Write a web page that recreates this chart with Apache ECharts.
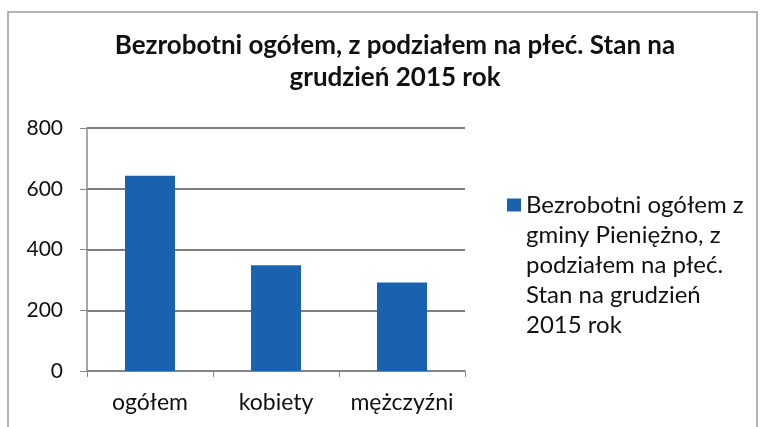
<!DOCTYPE html>
<html>
<head>
<meta charset="utf-8">
<script src="https://cdn.jsdelivr.net/npm/echarts@6/dist/echarts.min.js"></script>
<style>
  html, body { margin: 0; padding: 0; background: #fff; }
  #chart { width: 763px; height: 427px; }
</style>
</head>
<body>
<div id="chart"></div>
<script>
// dane z wykresu
var categories = ['ogółem', 'kobiety', 'mężczyźni'];
var values = [643, 348, 291];
var seriesName = 'Bezrobotni ogółem z gminy Pieniężno, z podziałem na płeć. Stan na grudzień 2015 rok';
var legendLines = ['Bezrobotni ogółem z', 'gminy Pieniężno, z', 'podziałem na płeć.', 'Stan na grudzień', '2015 rok'];
var yTicks = [0, 200, 400, 600, 800];

var font = 'Lato, "Open Sans", sans-serif';
var lineH = 30;

var myChart = echarts.init(document.getElementById('chart'));

// ikona legendy: kwadrat przy pierwszej linii, wysokość całego bloku tekstu
var legendH = legendLines.length * lineH;
var legendIcon = 'path://M0,0L0.01,0M0,8.5h14v13h-14zM0,' + legendH + 'L0.01,' + legendH;

var option = {
    backgroundColor: '#fff',
    animation: false,
    title: {
        text: 'Bezrobotni ogółem, z podziałem na płeć. Stan na\ngrudzień 2015 rok',
        left: 390,
        top: 25,
        textAlign: 'center',
        textStyle: {
            fontFamily: font,
            fontWeight: 'bold',
            fontSize: 26,
            lineHeight: 32,
            color: '#111'
        }
    },
    graphic: [{
        type: 'rect',
        shape: { x: 8, y: 12, width: 749, height: 440 },
        style: { fill: 'none', stroke: '#9a9a9a', lineWidth: 1.5 },
        silent: true
    }],
    legend: {
        left: 507,
        top: 190,
        padding: 0,
        orient: 'vertical',
        itemWidth: 14,
        itemHeight: legendH,
        icon: legendIcon,
        formatter: function () {
            return legendLines.join('\n');
        },
        textStyle: {
            fontFamily: font,
            fontSize: 24,
            lineHeight: lineH,
            color: '#111'
        }
    },
    grid: {
        left: 87,
        right: 298,
        top: 128,
        bottom: 56
    },
    xAxis: {
        type: 'category',
        data: categories,
        axisLine: { lineStyle: { color: '#888', width: 1.5 } },
        axisTick: { show: true, length: 6, lineStyle: { color: '#888' } },
        axisLabel: {
            interval: 0,
            margin: 20,
            fontFamily: font,
            fontSize: 23,
            color: '#111'
        }
    },
    yAxis: {
        type: 'value',
        min: yTicks[0],
        max: yTicks[yTicks.length - 1],
        interval: 200,
        axisLine: { show: true, lineStyle: { color: '#888', width: 1.5 } },
        axisTick: { show: true, length: 7, lineStyle: { color: '#888' } },
        splitLine: { lineStyle: { color: '#555', width: 1.5 } },
        axisLabel: {
            margin: 24,
            fontFamily: font,
            fontSize: 21,
            color: '#111'
        }
    },
    series: [{
        name: seriesName,
        type: 'bar',
        data: values,
        barWidth: 50,
        itemStyle: { color: '#1a62b0' }
    }]
};

myChart.setOption(option);
</script>
</body>
</html>
